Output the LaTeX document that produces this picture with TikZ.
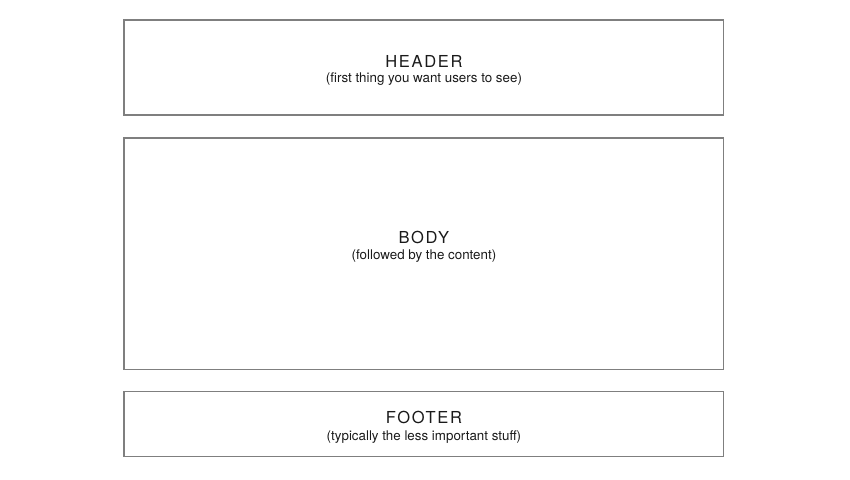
\documentclass[tikz,border=0pt]{standalone}
\usepackage{fontspec}
\setmainfont{TeX Gyre Heros}
\newfontfamily\titlefont[LetterSpace=10]{TeX Gyre Heros}
\usepackage{tikz}
\usetikzlibrary{positioning}
\definecolor{panelgray}{HTML}{7F7F7F}
\definecolor{inkgray}{HTML}{1A1A1A}

\begin{document}
\begin{tikzpicture}[x=0.02cm, y=-0.02cm,
        panel/.style={draw=panelgray, line width=0.6pt, minimum width=12cm, inner sep=0pt, outer sep=0pt},
        title/.style={font=\titlefont\fontsize{9.4}{11}\selectfont, text=inkgray, inner sep=0pt},
        note/.style={font=\fontsize{7.6}{9}\selectfont, text=inkgray, inner sep=0pt}]
        \useasboundingbox (0,0) rectangle (850,480);

        \node[panel, minimum height=1.9cm, anchor=north west] (header) at (124,20) {};
        \node[panel, minimum height=4.64cm, below=0.46cm of header] (body) {};
        \node[panel, minimum height=1.3cm, below=0.44cm of body] (footer) {};

        \node[title] (headertitle) at ([yshift=0.13cm]header.center) {HEADER};
        \node[note] (headernote) at ([yshift=-0.36cm]headertitle.center) {(first thing you want users to see)};

        \node[title] (bodytitle) at ([yshift=0.32cm]body.center) {BODY};
        \node[note] (bodynote) at ([yshift=-0.36cm]bodytitle.center) {(followed by the content)};

        \node[title] (footertitle) at ([yshift=0.13cm]footer.center) {FOOTER};
        \node[note] (footernote) at ([yshift=-0.38cm]footertitle.center) {(typically the less important stuff)};
\end{tikzpicture}
\end{document}
